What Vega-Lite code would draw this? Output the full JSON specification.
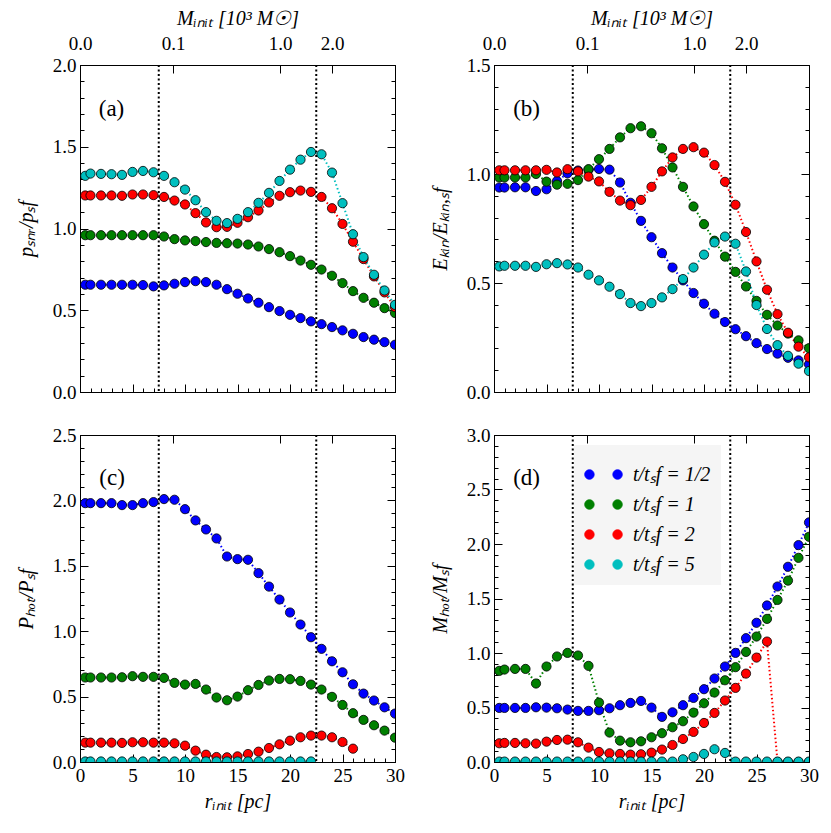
{
"$schema":"https://vega.github.io/schema/vega-lite/v6.json",
"background":"white",
"padding":{"left":15,"top":7,"right":5,"bottom":5},
"config":{"view":{"stroke":"black","strokeWidth":1},"font":"Liberation Serif",
"axis":{"labelFont":"Liberation Serif","labelFontSize":19,"labelColor":"black","titleFont":"Liberation Serif","titleFontSize":20,"titleFontWeight":"normal","titleFontStyle":"italic","titleColor":"black","domainColor":"black","tickColor":"black","grid":false,"labelOverlap":false,"labelFlush":false,"labelPadding":12},
"axisLeft":{"titlePadding":16},
"axisBottom":{"titlePadding":2},
"axisTop":{"labelPadding":20}},
"datasets":{"d":[
{"p":"a","s":"1/2","r":0.5,"v":0.656},{"p":"a","s":"1/2","r":1,"v":0.656},{"p":"a","s":"1/2","r":2,"v":0.656},{"p":"a","s":"1/2","r":3,"v":0.656},{"p":"a","s":"1/2","r":4,"v":0.656},{"p":"a","s":"1/2","r":5,"v":0.656},{"p":"a","s":"1/2","r":6,"v":0.654},{"p":"a","s":"1/2","r":7,"v":0.646},{"p":"a","s":"1/2","r":8,"v":0.652},{"p":"a","s":"1/2","r":9,"v":0.662},{"p":"a","s":"1/2","r":10,"v":0.672},{"p":"a","s":"1/2","r":11,"v":0.678},{"p":"a","s":"1/2","r":12,"v":0.672},{"p":"a","s":"1/2","r":13,"v":0.656},{"p":"a","s":"1/2","r":14,"v":0.629},{"p":"a","s":"1/2","r":15,"v":0.601},{"p":"a","s":"1/2","r":16,"v":0.572},{"p":"a","s":"1/2","r":17,"v":0.546},{"p":"a","s":"1/2","r":18,"v":0.519},{"p":"a","s":"1/2","r":19,"v":0.495},{"p":"a","s":"1/2","r":20,"v":0.472},{"p":"a","s":"1/2","r":21,"v":0.452},{"p":"a","s":"1/2","r":22,"v":0.432},{"p":"a","s":"1/2","r":23,"v":0.415},{"p":"a","s":"1/2","r":24,"v":0.397},{"p":"a","s":"1/2","r":25,"v":0.377},{"p":"a","s":"1/2","r":26,"v":0.356},{"p":"a","s":"1/2","r":27,"v":0.336},{"p":"a","s":"1/2","r":28,"v":0.320},{"p":"a","s":"1/2","r":29,"v":0.305},{"p":"a","s":"1/2","r":30,"v":0.289},
{"p":"a","s":"1","r":0.5,"v":0.959},{"p":"a","s":"1","r":1,"v":0.959},{"p":"a","s":"1","r":2,"v":0.959},{"p":"a","s":"1","r":3,"v":0.959},{"p":"a","s":"1","r":4,"v":0.959},{"p":"a","s":"1","r":5,"v":0.959},{"p":"a","s":"1","r":6,"v":0.959},{"p":"a","s":"1","r":7,"v":0.959},{"p":"a","s":"1","r":8,"v":0.951},{"p":"a","s":"1","r":9,"v":0.935},{"p":"a","s":"1","r":10,"v":0.927},{"p":"a","s":"1","r":11,"v":0.923},{"p":"a","s":"1","r":12,"v":0.917},{"p":"a","s":"1","r":13,"v":0.912},{"p":"a","s":"1","r":14,"v":0.910},{"p":"a","s":"1","r":15,"v":0.908},{"p":"a","s":"1","r":16,"v":0.902},{"p":"a","s":"1","r":17,"v":0.890},{"p":"a","s":"1","r":18,"v":0.874},{"p":"a","s":"1","r":19,"v":0.855},{"p":"a","s":"1","r":20,"v":0.831},{"p":"a","s":"1","r":21,"v":0.804},{"p":"a","s":"1","r":22,"v":0.778},{"p":"a","s":"1","r":23,"v":0.749},{"p":"a","s":"1","r":24,"v":0.711},{"p":"a","s":"1","r":25,"v":0.666},{"p":"a","s":"1","r":26,"v":0.617},{"p":"a","s":"1","r":27,"v":0.576},{"p":"a","s":"1","r":28,"v":0.546},{"p":"a","s":"1","r":29,"v":0.513},{"p":"a","s":"1","r":30,"v":0.483},
{"p":"a","s":"2","r":0.5,"v":1.202},{"p":"a","s":"2","r":1,"v":1.202},{"p":"a","s":"2","r":2,"v":1.202},{"p":"a","s":"2","r":3,"v":1.202},{"p":"a","s":"2","r":4,"v":1.200},{"p":"a","s":"2","r":5,"v":1.208},{"p":"a","s":"2","r":6,"v":1.208},{"p":"a","s":"2","r":7,"v":1.204},{"p":"a","s":"2","r":8,"v":1.193},{"p":"a","s":"2","r":9,"v":1.171},{"p":"a","s":"2","r":10,"v":1.147},{"p":"a","s":"2","r":11,"v":1.094},{"p":"a","s":"2","r":12,"v":1.037},{"p":"a","s":"2","r":13,"v":1.008},{"p":"a","s":"2","r":14,"v":1.010},{"p":"a","s":"2","r":15,"v":1.035},{"p":"a","s":"2","r":16,"v":1.069},{"p":"a","s":"2","r":17,"v":1.110},{"p":"a","s":"2","r":18,"v":1.159},{"p":"a","s":"2","r":19,"v":1.200},{"p":"a","s":"2","r":20,"v":1.222},{"p":"a","s":"2","r":21,"v":1.232},{"p":"a","s":"2","r":22,"v":1.224},{"p":"a","s":"2","r":23,"v":1.193},{"p":"a","s":"2","r":24,"v":1.124},{"p":"a","s":"2","r":25,"v":1.028},{"p":"a","s":"2","r":26,"v":0.919},{"p":"a","s":"2","r":27,"v":0.813},{"p":"a","s":"2","r":28,"v":0.707},{"p":"a","s":"2","r":29,"v":0.609},{"p":"a","s":"2","r":30,"v":0.519},
{"p":"a","s":"5","r":0.5,"v":1.322},{"p":"a","s":"5","r":1,"v":1.336},{"p":"a","s":"5","r":2,"v":1.334},{"p":"a","s":"5","r":3,"v":1.332},{"p":"a","s":"5","r":4,"v":1.328},{"p":"a","s":"5","r":5,"v":1.346},{"p":"a","s":"5","r":6,"v":1.352},{"p":"a","s":"5","r":7,"v":1.344},{"p":"a","s":"5","r":8,"v":1.322},{"p":"a","s":"5","r":9,"v":1.283},{"p":"a","s":"5","r":10,"v":1.238},{"p":"a","s":"5","r":11,"v":1.173},{"p":"a","s":"5","r":12,"v":1.100},{"p":"a","s":"5","r":13,"v":1.047},{"p":"a","s":"5","r":14,"v":1.033},{"p":"a","s":"5","r":15,"v":1.059},{"p":"a","s":"5","r":16,"v":1.100},{"p":"a","s":"5","r":17,"v":1.157},{"p":"a","s":"5","r":18,"v":1.218},{"p":"a","s":"5","r":19,"v":1.291},{"p":"a","s":"5","r":20,"v":1.360},{"p":"a","s":"5","r":21,"v":1.421},{"p":"a","s":"5","r":22,"v":1.468},{"p":"a","s":"5","r":23,"v":1.454},{"p":"a","s":"5","r":24,"v":1.342},{"p":"a","s":"5","r":25,"v":1.155},{"p":"a","s":"5","r":26,"v":0.965},{"p":"a","s":"5","r":27,"v":0.825},{"p":"a","s":"5","r":28,"v":0.717},{"p":"a","s":"5","r":29,"v":0.621},{"p":"a","s":"5","r":30,"v":0.533},
{"p":"b","s":"1/2","r":0.5,"v":0.938},{"p":"b","s":"1/2","r":1,"v":0.938},{"p":"b","s":"1/2","r":2,"v":0.939},{"p":"b","s":"1/2","r":3,"v":0.939},{"p":"b","s":"1/2","r":4,"v":0.922},{"p":"b","s":"1/2","r":5,"v":0.930},{"p":"b","s":"1/2","r":6,"v":0.968},{"p":"b","s":"1/2","r":7,"v":1.003},{"p":"b","s":"1/2","r":8,"v":1.016},{"p":"b","s":"1/2","r":9,"v":1.020},{"p":"b","s":"1/2","r":10,"v":1.023},{"p":"b","s":"1/2","r":11,"v":1.020},{"p":"b","s":"1/2","r":12,"v":0.961},{"p":"b","s":"1/2","r":13,"v":0.868},{"p":"b","s":"1/2","r":14,"v":0.785},{"p":"b","s":"1/2","r":15,"v":0.710},{"p":"b","s":"1/2","r":16,"v":0.637},{"p":"b","s":"1/2","r":17,"v":0.571},{"p":"b","s":"1/2","r":18,"v":0.512},{"p":"b","s":"1/2","r":19,"v":0.454},{"p":"b","s":"1/2","r":20,"v":0.405},{"p":"b","s":"1/2","r":21,"v":0.359},{"p":"b","s":"1/2","r":22,"v":0.321},{"p":"b","s":"1/2","r":23,"v":0.288},{"p":"b","s":"1/2","r":24,"v":0.256},{"p":"b","s":"1/2","r":25,"v":0.224},{"p":"b","s":"1/2","r":26,"v":0.197},{"p":"b","s":"1/2","r":27,"v":0.176},{"p":"b","s":"1/2","r":28,"v":0.157},{"p":"b","s":"1/2","r":29,"v":0.145},{"p":"b","s":"1/2","r":30,"v":0.127},
{"p":"b","s":"1","r":0.5,"v":0.984},{"p":"b","s":"1","r":1,"v":0.984},{"p":"b","s":"1","r":2,"v":0.984},{"p":"b","s":"1","r":3,"v":0.984},{"p":"b","s":"1","r":4,"v":1.000},{"p":"b","s":"1","r":5,"v":0.965},{"p":"b","s":"1","r":6,"v":0.951},{"p":"b","s":"1","r":7,"v":0.955},{"p":"b","s":"1","r":8,"v":0.972},{"p":"b","s":"1","r":9,"v":1.022},{"p":"b","s":"1","r":10,"v":1.068},{"p":"b","s":"1","r":11,"v":1.115},{"p":"b","s":"1","r":12,"v":1.168},{"p":"b","s":"1","r":13,"v":1.210},{"p":"b","s":"1","r":14,"v":1.219},{"p":"b","s":"1","r":15,"v":1.187},{"p":"b","s":"1","r":16,"v":1.118},{"p":"b","s":"1","r":17,"v":1.030},{"p":"b","s":"1","r":18,"v":0.941},{"p":"b","s":"1","r":19,"v":0.851},{"p":"b","s":"1","r":20,"v":0.770},{"p":"b","s":"1","r":21,"v":0.694},{"p":"b","s":"1","r":22,"v":0.621},{"p":"b","s":"1","r":23,"v":0.551},{"p":"b","s":"1","r":24,"v":0.484},{"p":"b","s":"1","r":25,"v":0.418},{"p":"b","s":"1","r":26,"v":0.354},{"p":"b","s":"1","r":27,"v":0.305},{"p":"b","s":"1","r":28,"v":0.268},{"p":"b","s":"1","r":29,"v":0.237},{"p":"b","s":"1","r":30,"v":0.201},
{"p":"b","s":"2","r":0.5,"v":1.017},{"p":"b","s":"2","r":1,"v":1.017},{"p":"b","s":"2","r":2,"v":1.017},{"p":"b","s":"2","r":3,"v":1.017},{"p":"b","s":"2","r":4,"v":1.017},{"p":"b","s":"2","r":5,"v":1.019},{"p":"b","s":"2","r":6,"v":1.007},{"p":"b","s":"2","r":7,"v":1.022},{"p":"b","s":"2","r":8,"v":1.012},{"p":"b","s":"2","r":9,"v":0.988},{"p":"b","s":"2","r":10,"v":0.966},{"p":"b","s":"2","r":11,"v":0.918},{"p":"b","s":"2","r":12,"v":0.878},{"p":"b","s":"2","r":13,"v":0.857},{"p":"b","s":"2","r":14,"v":0.881},{"p":"b","s":"2","r":15,"v":0.941},{"p":"b","s":"2","r":16,"v":1.012},{"p":"b","s":"2","r":17,"v":1.076},{"p":"b","s":"2","r":18,"v":1.115},{"p":"b","s":"2","r":19,"v":1.123},{"p":"b","s":"2","r":20,"v":1.098},{"p":"b","s":"2","r":21,"v":1.041},{"p":"b","s":"2","r":22,"v":0.964},{"p":"b","s":"2","r":23,"v":0.859},{"p":"b","s":"2","r":24,"v":0.734},{"p":"b","s":"2","r":25,"v":0.599},{"p":"b","s":"2","r":26,"v":0.469},{"p":"b","s":"2","r":27,"v":0.357},{"p":"b","s":"2","r":28,"v":0.272},{"p":"b","s":"2","r":29,"v":0.208},{"p":"b","s":"2","r":30,"v":0.159},
{"p":"b","s":"5","r":0.5,"v":0.576},{"p":"b","s":"5","r":1,"v":0.579},{"p":"b","s":"5","r":2,"v":0.579},{"p":"b","s":"5","r":3,"v":0.579},{"p":"b","s":"5","r":4,"v":0.574},{"p":"b","s":"5","r":5,"v":0.586},{"p":"b","s":"5","r":6,"v":0.591},{"p":"b","s":"5","r":7,"v":0.585},{"p":"b","s":"5","r":8,"v":0.571},{"p":"b","s":"5","r":9,"v":0.538},{"p":"b","s":"5","r":10,"v":0.512},{"p":"b","s":"5","r":11,"v":0.483},{"p":"b","s":"5","r":12,"v":0.449},{"p":"b","s":"5","r":13,"v":0.408},{"p":"b","s":"5","r":14,"v":0.394},{"p":"b","s":"5","r":15,"v":0.408},{"p":"b","s":"5","r":16,"v":0.434},{"p":"b","s":"5","r":17,"v":0.472},{"p":"b","s":"5","r":18,"v":0.518},{"p":"b","s":"5","r":19,"v":0.571},{"p":"b","s":"5","r":20,"v":0.630},{"p":"b","s":"5","r":21,"v":0.686},{"p":"b","s":"5","r":22,"v":0.713},{"p":"b","s":"5","r":23,"v":0.680},{"p":"b","s":"5","r":24,"v":0.553},{"p":"b","s":"5","r":25,"v":0.399},{"p":"b","s":"5","r":26,"v":0.289},{"p":"b","s":"5","r":27,"v":0.215},{"p":"b","s":"5","r":28,"v":0.166},{"p":"b","s":"5","r":29,"v":0.130},{"p":"b","s":"5","r":30,"v":0.096},
{"p":"c","s":"1/2","r":0.5,"v":1.979},{"p":"c","s":"1/2","r":1,"v":1.979},{"p":"c","s":"1/2","r":2,"v":1.979},{"p":"c","s":"1/2","r":3,"v":1.979},{"p":"c","s":"1/2","r":4,"v":1.964},{"p":"c","s":"1/2","r":5,"v":1.964},{"p":"c","s":"1/2","r":6,"v":1.979},{"p":"c","s":"1/2","r":7,"v":1.987},{"p":"c","s":"1/2","r":8,"v":2.010},{"p":"c","s":"1/2","r":9,"v":2.005},{"p":"c","s":"1/2","r":10,"v":1.933},{"p":"c","s":"1/2","r":11,"v":1.847},{"p":"c","s":"1/2","r":12,"v":1.778},{"p":"c","s":"1/2","r":13,"v":1.709},{"p":"c","s":"1/2","r":14,"v":1.571},{"p":"c","s":"1/2","r":15,"v":1.551},{"p":"c","s":"1/2","r":16,"v":1.546},{"p":"c","s":"1/2","r":17,"v":1.444},{"p":"c","s":"1/2","r":18,"v":1.341},{"p":"c","s":"1/2","r":19,"v":1.242},{"p":"c","s":"1/2","r":20,"v":1.143},{"p":"c","s":"1/2","r":21,"v":1.051},{"p":"c","s":"1/2","r":22,"v":0.954},{"p":"c","s":"1/2","r":23,"v":0.865},{"p":"c","s":"1/2","r":24,"v":0.770},{"p":"c","s":"1/2","r":25,"v":0.686},{"p":"c","s":"1/2","r":26,"v":0.594},{"p":"c","s":"1/2","r":27,"v":0.523},{"p":"c","s":"1/2","r":28,"v":0.470},{"p":"c","s":"1/2","r":29,"v":0.418},{"p":"c","s":"1/2","r":30,"v":0.370},
{"p":"c","s":"1","r":0.5,"v":0.646},{"p":"c","s":"1","r":1,"v":0.646},{"p":"c","s":"1","r":2,"v":0.646},{"p":"c","s":"1","r":3,"v":0.646},{"p":"c","s":"1","r":4,"v":0.648},{"p":"c","s":"1","r":5,"v":0.656},{"p":"c","s":"1","r":6,"v":0.651},{"p":"c","s":"1","r":7,"v":0.651},{"p":"c","s":"1","r":8,"v":0.643},{"p":"c","s":"1","r":9,"v":0.605},{"p":"c","s":"1","r":10,"v":0.592},{"p":"c","s":"1","r":11,"v":0.597},{"p":"c","s":"1","r":12,"v":0.554},{"p":"c","s":"1","r":13,"v":0.493},{"p":"c","s":"1","r":14,"v":0.472},{"p":"c","s":"1","r":15,"v":0.500},{"p":"c","s":"1","r":16,"v":0.549},{"p":"c","s":"1","r":17,"v":0.589},{"p":"c","s":"1","r":18,"v":0.623},{"p":"c","s":"1","r":19,"v":0.635},{"p":"c","s":"1","r":20,"v":0.633},{"p":"c","s":"1","r":21,"v":0.620},{"p":"c","s":"1","r":22,"v":0.592},{"p":"c","s":"1","r":23,"v":0.554},{"p":"c","s":"1","r":24,"v":0.498},{"p":"c","s":"1","r":25,"v":0.436},{"p":"c","s":"1","r":26,"v":0.373},{"p":"c","s":"1","r":27,"v":0.322},{"p":"c","s":"1","r":28,"v":0.281},{"p":"c","s":"1","r":29,"v":0.240},{"p":"c","s":"1","r":30,"v":0.186},
{"p":"c","s":"2","r":0.5,"v":0.148},{"p":"c","s":"2","r":1,"v":0.148},{"p":"c","s":"2","r":2,"v":0.148},{"p":"c","s":"2","r":3,"v":0.148},{"p":"c","s":"2","r":4,"v":0.146},{"p":"c","s":"2","r":5,"v":0.151},{"p":"c","s":"2","r":6,"v":0.151},{"p":"c","s":"2","r":7,"v":0.148},{"p":"c","s":"2","r":8,"v":0.148},{"p":"c","s":"2","r":9,"v":0.143},{"p":"c","s":"2","r":10,"v":0.125},{"p":"c","s":"2","r":11,"v":0.087},{"p":"c","s":"2","r":12,"v":0.056},{"p":"c","s":"2","r":13,"v":0.038},{"p":"c","s":"2","r":14,"v":0.036},{"p":"c","s":"2","r":15,"v":0.043},{"p":"c","s":"2","r":16,"v":0.061},{"p":"c","s":"2","r":17,"v":0.079},{"p":"c","s":"2","r":18,"v":0.107},{"p":"c","s":"2","r":19,"v":0.135},{"p":"c","s":"2","r":20,"v":0.163},{"p":"c","s":"2","r":21,"v":0.189},{"p":"c","s":"2","r":22,"v":0.202},{"p":"c","s":"2","r":23,"v":0.202},{"p":"c","s":"2","r":24,"v":0.189},{"p":"c","s":"2","r":25,"v":0.153},{"p":"c","s":"2","r":26,"v":0.102},
{"p":"c","s":"5","r":0.5,"v":0.004},{"p":"c","s":"5","r":1,"v":0.004},{"p":"c","s":"5","r":2,"v":0.004},{"p":"c","s":"5","r":3,"v":0.004},{"p":"c","s":"5","r":4,"v":0.004},{"p":"c","s":"5","r":5,"v":0.004},{"p":"c","s":"5","r":6,"v":0.004},{"p":"c","s":"5","r":7,"v":0.004},{"p":"c","s":"5","r":8,"v":0.004},{"p":"c","s":"5","r":9,"v":0.004},{"p":"c","s":"5","r":10,"v":0.004},{"p":"c","s":"5","r":11,"v":0.004},{"p":"c","s":"5","r":12,"v":0.004},{"p":"c","s":"5","r":13,"v":0.004},{"p":"c","s":"5","r":14,"v":0.004},{"p":"c","s":"5","r":15,"v":0.004},{"p":"c","s":"5","r":16,"v":0.004},{"p":"c","s":"5","r":17,"v":0.004},{"p":"c","s":"5","r":18,"v":0.004},{"p":"c","s":"5","r":19,"v":0.004},{"p":"c","s":"5","r":20,"v":0.004},{"p":"c","s":"5","r":21,"v":0.004},{"p":"c","s":"5","r":22,"v":0.004},
{"p":"d","s":"1/2","r":0.5,"v":0.496},{"p":"d","s":"1/2","r":1,"v":0.496},{"p":"d","s":"1/2","r":2,"v":0.496},{"p":"d","s":"1/2","r":3,"v":0.496},{"p":"d","s":"1/2","r":4,"v":0.502},{"p":"d","s":"1/2","r":5,"v":0.499},{"p":"d","s":"1/2","r":6,"v":0.493},{"p":"d","s":"1/2","r":7,"v":0.481},{"p":"d","s":"1/2","r":8,"v":0.469},{"p":"d","s":"1/2","r":9,"v":0.469},{"p":"d","s":"1/2","r":10,"v":0.475},{"p":"d","s":"1/2","r":11,"v":0.493},{"p":"d","s":"1/2","r":12,"v":0.521},{"p":"d","s":"1/2","r":13,"v":0.542},{"p":"d","s":"1/2","r":14,"v":0.560},{"p":"d","s":"1/2","r":15,"v":0.499},{"p":"d","s":"1/2","r":16,"v":0.414},{"p":"d","s":"1/2","r":17,"v":0.456},{"p":"d","s":"1/2","r":18,"v":0.521},{"p":"d","s":"1/2","r":19,"v":0.588},{"p":"d","s":"1/2","r":20,"v":0.668},{"p":"d","s":"1/2","r":21,"v":0.766},{"p":"d","s":"1/2","r":22,"v":0.876},{"p":"d","s":"1/2","r":23,"v":1.001},{"p":"d","s":"1/2","r":24,"v":1.136},{"p":"d","s":"1/2","r":25,"v":1.277},{"p":"d","s":"1/2","r":26,"v":1.436},{"p":"d","s":"1/2","r":27,"v":1.610},{"p":"d","s":"1/2","r":28,"v":1.791},{"p":"d","s":"1/2","r":29,"v":1.990},{"p":"d","s":"1/2","r":30,"v":2.198},
{"p":"d","s":"1","r":0.5,"v":0.836},{"p":"d","s":"1","r":1,"v":0.848},{"p":"d","s":"1","r":2,"v":0.854},{"p":"d","s":"1","r":3,"v":0.854},{"p":"d","s":"1","r":4,"v":0.720},{"p":"d","s":"1","r":5,"v":0.876},{"p":"d","s":"1","r":6,"v":0.968},{"p":"d","s":"1","r":7,"v":1.001},{"p":"d","s":"1","r":8,"v":0.977},{"p":"d","s":"1","r":9,"v":0.882},{"p":"d","s":"1","r":10,"v":0.545},{"p":"d","s":"1","r":11,"v":0.270},{"p":"d","s":"1","r":12,"v":0.196},{"p":"d","s":"1","r":13,"v":0.181},{"p":"d","s":"1","r":14,"v":0.190},{"p":"d","s":"1","r":15,"v":0.227},{"p":"d","s":"1","r":16,"v":0.264},{"p":"d","s":"1","r":17,"v":0.319},{"p":"d","s":"1","r":18,"v":0.374},{"p":"d","s":"1","r":19,"v":0.453},{"p":"d","s":"1","r":20,"v":0.539},{"p":"d","s":"1","r":21,"v":0.637},{"p":"d","s":"1","r":22,"v":0.750},{"p":"d","s":"1","r":23,"v":0.870},{"p":"d","s":"1","r":24,"v":1.010},{"p":"d","s":"1","r":25,"v":1.151},{"p":"d","s":"1","r":26,"v":1.313},{"p":"d","s":"1","r":27,"v":1.487},{"p":"d","s":"1","r":28,"v":1.664},{"p":"d","s":"1","r":29,"v":1.873},{"p":"d","s":"1","r":30,"v":2.066},
{"p":"d","s":"2","r":0.5,"v":0.172},{"p":"d","s":"2","r":1,"v":0.175},{"p":"d","s":"2","r":2,"v":0.175},{"p":"d","s":"2","r":3,"v":0.172},{"p":"d","s":"2","r":4,"v":0.169},{"p":"d","s":"2","r":5,"v":0.187},{"p":"d","s":"2","r":6,"v":0.202},{"p":"d","s":"2","r":7,"v":0.205},{"p":"d","s":"2","r":8,"v":0.181},{"p":"d","s":"2","r":9,"v":0.132},{"p":"d","s":"2","r":10,"v":0.092},{"p":"d","s":"2","r":11,"v":0.080},{"p":"d","s":"2","r":12,"v":0.074},{"p":"d","s":"2","r":13,"v":0.068},{"p":"d","s":"2","r":14,"v":0.071},{"p":"d","s":"2","r":15,"v":0.086},{"p":"d","s":"2","r":16,"v":0.114},{"p":"d","s":"2","r":17,"v":0.156},{"p":"d","s":"2","r":18,"v":0.211},{"p":"d","s":"2","r":19,"v":0.276},{"p":"d","s":"2","r":20,"v":0.358},{"p":"d","s":"2","r":21,"v":0.450},{"p":"d","s":"2","r":22,"v":0.564},{"p":"d","s":"2","r":23,"v":0.680},{"p":"d","s":"2","r":24,"v":0.811},{"p":"d","s":"2","r":25,"v":0.958},{"p":"d","s":"2","r":26,"v":1.105},{"p":"d","s":"2","r":27,"v":0},{"p":"d","s":"2","r":28,"v":0},{"p":"d","s":"2","r":29,"v":0},{"p":"d","s":"2","r":30,"v":0},
{"p":"d","s":"5","r":0.5,"v":0.004},{"p":"d","s":"5","r":1,"v":0.004},{"p":"d","s":"5","r":2,"v":0.004},{"p":"d","s":"5","r":3,"v":0.004},{"p":"d","s":"5","r":4,"v":0.004},{"p":"d","s":"5","r":5,"v":0.004},{"p":"d","s":"5","r":6,"v":0.004},{"p":"d","s":"5","r":7,"v":0.004},{"p":"d","s":"5","r":8,"v":0.004},{"p":"d","s":"5","r":9,"v":0.004},{"p":"d","s":"5","r":10,"v":0.004},{"p":"d","s":"5","r":11,"v":0.004},{"p":"d","s":"5","r":12,"v":0.004},{"p":"d","s":"5","r":13,"v":0.004},{"p":"d","s":"5","r":14,"v":0.004},{"p":"d","s":"5","r":15,"v":0.004},{"p":"d","s":"5","r":16,"v":0.004},{"p":"d","s":"5","r":17,"v":0.004},{"p":"d","s":"5","r":18,"v":0.025},{"p":"d","s":"5","r":19,"v":0.046},{"p":"d","s":"5","r":20,"v":0.074},{"p":"d","s":"5","r":21,"v":0.117},{"p":"d","s":"5","r":22,"v":0.083},{"p":"d","s":"5","r":23,"v":0.004},{"p":"d","s":"5","r":24,"v":0.004},{"p":"d","s":"5","r":25,"v":0.004},{"p":"d","s":"5","r":26,"v":0.004},{"p":"d","s":"5","r":27,"v":0.004},{"p":"d","s":"5","r":28,"v":0.004},{"p":"d","s":"5","r":29,"v":0.004},{"p":"d","s":"5","r":30,"v":0.004}
]},
"bounds":"flush",
"columns":2,
"spacing":{"row":43,"column":99},
"resolve":{"scale":{"color":"independent"},"legend":{"color":"independent"}},
"concat":[
{"width":315,"height":327,"data":{"name":"d"},
"layer":[
{"data":{"values":[{}]},"mark":{"type":"rule","color":"black","strokeWidth":2,"strokeDash":[2,2.5]},"encoding":{"x":{"datum":7.5,"type":"quantitative","axis":null}}},
{"data":{"values":[{}]},"mark":{"type":"rule","color":"black","strokeWidth":2,"strokeDash":[2,2.5]},"encoding":{"x":{"datum":22.5,"type":"quantitative","axis":null}}},
{"transform":[{"filter":"datum.p=='a'"}],"mark":{"type":"line","strokeWidth":2,"strokeDash":[1.5,2.5],"clip":true},
"encoding":{"x":{"field":"r","type":"quantitative","scale":{"domain":[0,30],"nice":false,"zero":false},"axis":{"orient":"bottom","values":[0,1,2,3,4,5,6,7,8,9,10,11,12,13,14,15,16,17,18,19,20,21,22,23,24,25,26,27,28,29,30],"labels":false,"title":null,"tickSize":{"condition":{"test":"datum.value%5==0","value":-8},"value":-4}}},
"y":{"field":"v","type":"quantitative","scale":{"domain":[0,2],"nice":false},"axis":{"orient":"left","values":[0,0.1,0.2,0.3,0.4,0.5,0.6,0.7,0.8,0.9,1,1.1,1.2,1.3,1.4,1.5,1.6,1.7,1.8,1.9,2],"labelExpr":"round(datum.value*10)%5==0 ? format(datum.value,'.1f') : ''","tickSize":{"condition":{"test":"round(datum.value*10)%5==0","value":-8},"value":-4},"title":"pₛₙᵣ/pₛf"}},
"color":{"field":"s","type":"nominal","scale":{"domain":["1/2","1","2","5"],"range":["#0000ff","#008000","#ff0000","#00bfbf"]},"legend":null},
"detail":{"field":"s"}}},
{"transform":[{"filter":"datum.p=='a'"}],"mark":{"type":"point","filled":true,"size":85,"opacity":1,"stroke":"black","strokeWidth":0.8,"clip":true},
"encoding":{"x":{"field":"r","type":"quantitative","axis":{"orient":"top","values":[0,8.87,19.05,24.0],"labelExpr":"datum.value<1?'0.0':datum.value<10?'0.1':datum.value<20?'1.0':'2.0'","tickSize":-8,"title":"Mᵢₙᵢₜ  [10³ M☉]","titlePadding":6}},
"y":{"field":"v","type":"quantitative","axis":{"orient":"right","values":[0,0.1,0.2,0.3,0.4,0.5,0.6,0.7,0.8,0.9,1,1.1,1.2,1.3,1.4,1.5,1.6,1.7,1.8,1.9,2],"labels":false,"title":null,"tickSize":{"condition":{"test":"round(datum.value*10)%5==0","value":-8},"value":-4}}},
"color":{"field":"s","type":"nominal","scale":{"domain":["1/2","1","2","5"],"range":["#0000ff","#008000","#ff0000","#00bfbf"]},"legend":null}}},
{"data":{"values":[{}]},"mark":{"type":"text","font":"Liberation Serif","fontSize":23,"align":"center","baseline":"middle","color":"black"},"encoding":{"x":{"datum":3.0,"type":"quantitative","axis":null},"y":{"datum":1.73,"type":"quantitative","axis":null},"text":{"value":"(a)"}}}
],
"resolve":{"axis":{"x":"independent","y":"independent"}}},
{"width":315,"height":327,"data":{"name":"d"},
"layer":[
{"data":{"values":[{}]},"mark":{"type":"rule","color":"black","strokeWidth":2,"strokeDash":[2,2.5]},"encoding":{"x":{"datum":7.5,"type":"quantitative","axis":null}}},
{"data":{"values":[{}]},"mark":{"type":"rule","color":"black","strokeWidth":2,"strokeDash":[2,2.5]},"encoding":{"x":{"datum":22.5,"type":"quantitative","axis":null}}},
{"transform":[{"filter":"datum.p=='b'"}],"mark":{"type":"line","strokeWidth":2,"strokeDash":[1.5,2.5],"clip":true},
"encoding":{"x":{"field":"r","type":"quantitative","scale":{"domain":[0,30],"nice":false,"zero":false},"axis":{"orient":"bottom","values":[0,1,2,3,4,5,6,7,8,9,10,11,12,13,14,15,16,17,18,19,20,21,22,23,24,25,26,27,28,29,30],"labels":false,"title":null,"tickSize":{"condition":{"test":"datum.value%5==0","value":-8},"value":-4}}},
"y":{"field":"v","type":"quantitative","scale":{"domain":[0,1.5],"nice":false},"axis":{"orient":"left","values":[0,0.1,0.2,0.3,0.4,0.5,0.6,0.7,0.8,0.9,1,1.1,1.2,1.3,1.4,1.5],"labelExpr":"round(datum.value*10)%5==0 ? format(datum.value,'.1f') : ''","tickSize":{"condition":{"test":"round(datum.value*10)%5==0","value":-8},"value":-4},"title":"Eₖᵢₙ/Eₖᵢₙ,ₛf"}},
"color":{"field":"s","type":"nominal","scale":{"domain":["1/2","1","2","5"],"range":["#0000ff","#008000","#ff0000","#00bfbf"]},"legend":null},
"detail":{"field":"s"}}},
{"transform":[{"filter":"datum.p=='b'"}],"mark":{"type":"point","filled":true,"size":85,"opacity":1,"stroke":"black","strokeWidth":0.8,"clip":true},
"encoding":{"x":{"field":"r","type":"quantitative","axis":{"orient":"top","values":[0,8.87,19.05,24.0],"labelExpr":"datum.value<1?'0.0':datum.value<10?'0.1':datum.value<20?'1.0':'2.0'","tickSize":-8,"title":"Mᵢₙᵢₜ  [10³ M☉]","titlePadding":6}},
"y":{"field":"v","type":"quantitative","axis":{"orient":"right","values":[0,0.1,0.2,0.3,0.4,0.5,0.6,0.7,0.8,0.9,1,1.1,1.2,1.3,1.4,1.5],"labels":false,"title":null,"tickSize":{"condition":{"test":"round(datum.value*10)%5==0","value":-8},"value":-4}}},
"color":{"field":"s","type":"nominal","scale":{"domain":["1/2","1","2","5"],"range":["#0000ff","#008000","#ff0000","#00bfbf"]},"legend":null}}},
{"data":{"values":[{}]},"mark":{"type":"text","font":"Liberation Serif","fontSize":23,"align":"center","baseline":"middle","color":"black"},"encoding":{"x":{"datum":3.1,"type":"quantitative","axis":null},"y":{"datum":1.30,"type":"quantitative","axis":null},"text":{"value":"(b)"}}}
],
"resolve":{"axis":{"x":"independent","y":"independent"}}},
{"width":315,"height":327,"data":{"name":"d"},
"layer":[
{"data":{"values":[{}]},"mark":{"type":"rule","color":"black","strokeWidth":2,"strokeDash":[2,2.5]},"encoding":{"x":{"datum":7.5,"type":"quantitative","axis":null}}},
{"data":{"values":[{}]},"mark":{"type":"rule","color":"black","strokeWidth":2,"strokeDash":[2,2.5]},"encoding":{"x":{"datum":22.5,"type":"quantitative","axis":null}}},
{"transform":[{"filter":"datum.p=='c'"}],"mark":{"type":"line","strokeWidth":2,"strokeDash":[1.5,2.5],"clip":true},
"encoding":{"x":{"field":"r","type":"quantitative","scale":{"domain":[0,30],"nice":false,"zero":false},"axis":{"orient":"bottom","values":[0,1,2,3,4,5,6,7,8,9,10,11,12,13,14,15,16,17,18,19,20,21,22,23,24,25,26,27,28,29,30],"labelExpr":"datum.value%5==0 ? format(datum.value,'d') : ''","title":"rᵢₙᵢₜ [pc]","tickSize":{"condition":{"test":"datum.value%5==0","value":-8},"value":-4}}},
"y":{"field":"v","type":"quantitative","scale":{"domain":[0,2.5],"nice":false},"axis":{"orient":"left","values":[0,0.1,0.2,0.3,0.4,0.5,0.6,0.7,0.8,0.9,1,1.1,1.2,1.3,1.4,1.5,1.6,1.7,1.8,1.9,2,2.1,2.2,2.3,2.4,2.5],"labelExpr":"round(datum.value*10)%5==0 ? format(datum.value,'.1f') : ''","tickSize":{"condition":{"test":"round(datum.value*10)%5==0","value":-8},"value":-4},"title":"Pₕₒₜ/Pₛf"}},
"color":{"field":"s","type":"nominal","scale":{"domain":["1/2","1","2","5"],"range":["#0000ff","#008000","#ff0000","#00bfbf"]},"legend":null},
"detail":{"field":"s"}}},
{"transform":[{"filter":"datum.p=='c'"}],"mark":{"type":"point","filled":true,"size":85,"opacity":1,"stroke":"black","strokeWidth":0.8,"clip":true},
"encoding":{"x":{"field":"r","type":"quantitative","axis":{"orient":"top","values":[0,8.87,19.05,24.0],"labels":false,"tickSize":-8,"title":null}},
"y":{"field":"v","type":"quantitative","axis":{"orient":"right","values":[0,0.1,0.2,0.3,0.4,0.5,0.6,0.7,0.8,0.9,1,1.1,1.2,1.3,1.4,1.5,1.6,1.7,1.8,1.9,2,2.1,2.2,2.3,2.4,2.5],"labels":false,"title":null,"tickSize":{"condition":{"test":"round(datum.value*10)%5==0","value":-8},"value":-4}}},
"color":{"field":"s","type":"nominal","scale":{"domain":["1/2","1","2","5"],"range":["#0000ff","#008000","#ff0000","#00bfbf"]},"legend":null}}},
{"data":{"values":[{}]},"mark":{"type":"text","font":"Liberation Serif","fontSize":23,"align":"center","baseline":"middle","color":"black"},"encoding":{"x":{"datum":3.05,"type":"quantitative","axis":null},"y":{"datum":2.17,"type":"quantitative","axis":null},"text":{"value":"(c)"}}}
],
"resolve":{"axis":{"x":"independent","y":"independent"}}},
{"width":315,"height":327,"data":{"name":"d"},
"layer":[
{"data":{"values":[{}]},"mark":{"type":"rule","color":"black","strokeWidth":2,"strokeDash":[2,2.5]},"encoding":{"x":{"datum":7.5,"type":"quantitative","axis":null}}},
{"data":{"values":[{}]},"mark":{"type":"rule","color":"black","strokeWidth":2,"strokeDash":[2,2.5]},"encoding":{"x":{"datum":22.5,"type":"quantitative","axis":null}}},
{"transform":[{"filter":"datum.p=='d'"}],"mark":{"type":"line","strokeWidth":2,"strokeDash":[1.5,2.5],"clip":true},
"encoding":{"x":{"field":"r","type":"quantitative","scale":{"domain":[0,30],"nice":false,"zero":false},"axis":{"orient":"bottom","values":[0,1,2,3,4,5,6,7,8,9,10,11,12,13,14,15,16,17,18,19,20,21,22,23,24,25,26,27,28,29,30],"labelExpr":"datum.value%5==0 ? format(datum.value,'d') : ''","title":"rᵢₙᵢₜ [pc]","tickSize":{"condition":{"test":"datum.value%5==0","value":-8},"value":-4}}},
"y":{"field":"v","type":"quantitative","scale":{"domain":[0,3],"nice":false},"axis":{"orient":"left","values":[0,0.1,0.2,0.3,0.4,0.5,0.6,0.7,0.8,0.9,1,1.1,1.2,1.3,1.4,1.5,1.6,1.7,1.8,1.9,2,2.1,2.2,2.3,2.4,2.5,2.6,2.7,2.8,2.9,3],"labelExpr":"round(datum.value*10)%5==0 ? format(datum.value,'.1f') : ''","tickSize":{"condition":{"test":"round(datum.value*10)%5==0","value":-8},"value":-4},"title":"Mₕₒₜ/Mₛf"}},
"color":{"field":"s","type":"nominal","scale":{"domain":["1/2","1","2","5"],"range":["#0000ff","#008000","#ff0000","#00bfbf"]}},
"detail":{"field":"s"}}},
{"transform":[{"filter":"datum.p=='d'"}],"mark":{"type":"point","filled":true,"size":85,"opacity":1,"stroke":"black","strokeWidth":0.8,"clip":true},
"encoding":{"x":{"field":"r","type":"quantitative","axis":{"orient":"top","values":[0,8.87,19.05,24.0],"labels":false,"tickSize":-8,"title":null}},
"y":{"field":"v","type":"quantitative","axis":{"orient":"right","values":[0,0.1,0.2,0.3,0.4,0.5,0.6,0.7,0.8,0.9,1,1.1,1.2,1.3,1.4,1.5,1.6,1.7,1.8,1.9,2,2.1,2.2,2.3,2.4,2.5,2.6,2.7,2.8,2.9,3],"labels":false,"title":null,"tickSize":{"condition":{"test":"round(datum.value*10)%5==0","value":-8},"value":-4}}},
"color":{"field":"s","type":"nominal","scale":{"domain":["1/2","1","2","5"],"range":["#0000ff","#008000","#ff0000","#00bfbf"]},
"legend":{"orient":"none","legendX":80,"legendY":10,"title":null,"fillColor":"#f5f5f5","padding":10,"labelFont":"Liberation Serif","labelFontSize":20,"labelFontStyle":"italic","labelColor":"black","labelExpr":"'t/tₛf = '+datum.label","symbolType":"M -0.49,0 A 0.25,0.25 0 1,1 -0.99,0 A 0.25,0.25 0 1,1 -0.49,0 Z M 0.99,0 A 0.25,0.25 0 1,1 0.49,0 A 0.25,0.25 0 1,1 0.99,0 Z","symbolSize":1444,"symbolStrokeColor":"black","symbolStrokeWidth":0.8,"symbolOpacity":1,"rowPadding":0,"labelOffset":10,
"encode":{"symbols":{"update":{"stroke":{"value":"black"},"strokeWidth":{"value":0.8},"strokeDash":{"value":[]}}}}}}}},
{"data":{"values":[{}]},"mark":{"type":"text","font":"Liberation Serif","fontSize":23,"align":"center","baseline":"middle","color":"black"},"encoding":{"x":{"datum":3.1,"type":"quantitative","axis":null},"y":{"datum":2.61,"type":"quantitative","axis":null},"text":{"value":"(d)"}}}
],
"resolve":{"axis":{"x":"independent","y":"independent"}}}
]
}
